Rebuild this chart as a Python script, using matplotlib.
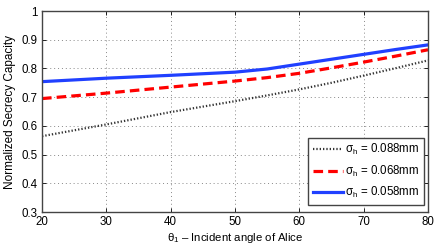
import matplotlib
matplotlib.use("Agg")
import matplotlib.pyplot as plt

# incident angle (deg)
theta = [20, 30, 40, 50, 55, 60, 65, 70, 75, 80]

# normalized secrecy capacity for each surface roughness
cap_088 = [0.564, 0.605, 0.648, 0.686, 0.706, 0.727, 0.750, 0.775, 0.801, 0.828]
cap_068 = [0.695, 0.714, 0.735, 0.756, 0.768, 0.783, 0.802, 0.822, 0.843, 0.865]
cap_058 = [0.754, 0.766, 0.776, 0.787, 0.798, 0.815, 0.832, 0.849, 0.866, 0.882]

labels = [r"$\sigma_h$ = 0.088mm", r"$\sigma_h$ = 0.068mm", r"$\sigma_h$ = 0.058mm"]

plt.rcParams['font.family'] = ['Liberation Sans', 'DejaVu Sans']
plt.rcParams['mathtext.fontset'] = 'custom'
plt.rcParams['mathtext.rm'] = 'Liberation Sans'
plt.rcParams['mathtext.it'] = 'Liberation Sans'

fig = plt.figure(figsize=(4.4, 2.49), dpi=100)
ax = fig.add_axes([42 / 440, 1 - 212 / 249, 386 / 440, 201 / 249])

ax.plot(theta, cap_088, color='#333333', linestyle=(0, (0.6, 0.9)), linewidth=1.6, label=labels[0])
ax.plot(theta, cap_068, color='#ff0000', linestyle=(0, (3, 1.6)), linewidth=2.3, label=labels[1])
ax.plot(theta, cap_058, color='#2040ff', linestyle='-', linewidth=2.3, label=labels[2])

ax.set_xlim(20, 80)
ax.set_ylim(0.3, 1.0)
ax.set_xticks([20, 30, 40, 50, 60, 70, 80])
ax.set_yticks([0.3, 0.4, 0.5, 0.6, 0.7, 0.8, 0.9, 1.0])
ax.set_yticklabels(['0.3', '0.4', '0.5', '0.6', '0.7', '0.8', '0.9', '1'])
ax.tick_params(direction='in', top=True, right=True, labelsize=8.3, length=3, width=0.6, pad=3)
ax.grid(True, linestyle=(0, (1, 3)), color='#888888', linewidth=0.7)
for s in ax.spines.values():
    s.set_linewidth(1.0)
    s.set_color('#444444')

ax.set_xlabel(r"$\theta_1$ – Incident angle of Alice", fontsize=8.2, labelpad=2)
ax.set_ylabel("Normalized Secrecy Capacity", fontsize=8.5, labelpad=4)

leg = ax.legend(loc='lower right', fontsize=8.3, fancybox=False, edgecolor='#444444',
                handlelength=2.6, handletextpad=0.2, borderpad=0.4, labelspacing=0.55,
                borderaxespad=0, bbox_to_anchor=(0.99, 0.035), framealpha=1)
leg.get_frame().set_linewidth(1.0)

fig.savefig("out.png", dpi=100)
